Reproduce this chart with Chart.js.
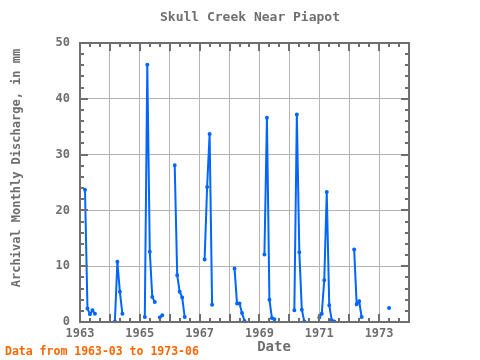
<!DOCTYPE html>
<html>
<head>
<meta charset="utf-8">
<script src="https://cdn.jsdelivr.net/npm/chart.js@4/dist/chart.umd.min.js"></script>
<style>
  body { margin: 0; background: #fff; }
  #wrap { width: 480px; height: 360px; }
</style>
</head>
<body>
<div id="wrap"><canvas id="flowChart" width="480" height="360"></canvas></div>
<script>
// ---------- DATA ----------
const months = [
  "1963-03", "1963-04", "1963-05", "1963-06", "1963-07", "1963-08",
  "1964-03", "1964-04", "1964-05", "1964-06", "1964-07",
  "1965-03", "1965-04", "1965-05", "1965-06", "1965-07", "1965-08", "1965-09", "1965-10", "1965-11",
  "1966-03", "1966-04", "1966-05", "1966-06", "1966-07", "1966-08",
  "1967-03", "1967-04", "1967-05", "1967-06", "1967-07",
  "1968-03", "1968-04", "1968-05", "1968-06", "1968-07", "1968-08",
  "1969-03", "1969-04", "1969-05", "1969-06", "1969-07", "1969-08",
  "1970-03", "1970-04", "1970-05", "1970-06", "1970-07", "1970-08",
  "1971-01", "1971-02", "1971-03", "1971-04", "1971-05", "1971-06", "1971-07", "1971-08",
  "1972-03", "1972-04", "1972-05", "1972-06", "1972-07",
  "1973-05", "1973-06"
];
const discharge = [
  23.7, 2.4, 1.4, 2.1, 1.5, null,
  0.1, 10.8, 5.4, 1.5, null,
  0.9, 46.1, 12.6, 4.5, 3.6, null, 0.8, 1.2, null,
  28.1, 8.4, 5.4, 4.4, 0.9, null,
  11.2, 24.2, 33.7, 3.1, null,
  9.6, 3.3, 3.3, 1.6, 0.2, null,
  12.1, 36.6, 4.0, 0.7, 0.5, null,
  2.1, 37.2, 12.5, 2.2, 0.1, null,
  0.8, 1.5, 7.5, 23.3, 3.0, 0.3, 0.1, null,
  13.0, 3.2, 3.7, 0.9, null,
  2.5, null
];
const yearLabels = ["1963", "1965", "1967", "1969", "1971", "1973"];
const valueLabels = ["0", "10", "20", "30", "40", "50"];

const chartTitle = "Skull Creek Near Piapot";
const yTitle = "Archival Monthly Discharge, in mm";
const xTitle = "Date";
const footNote = "Data from 1963-03 to 1973-06";

// "YYYY-MM" -> decimal year
function toYear(s) {
    const p = s.split("-");
    return Number(p[0]) + (Number(p[1]) - 1) / 12;
}

const points = months.map((m, i) => ({ x: toYear(m), y: discharge[i] }));

const MONO = "'DejaVu Sans Mono', 'Liberation Mono', monospace";
const GREY = "#6e6e6e";

// frame, inward ticks and the texts
const decor = {
    id: "decor",
    afterDatasetsDraw(chart) {
        const { ctx, chartArea: a, scales } = chart;
        ctx.save();
        ctx.strokeStyle = GREY;

        // minor + major ticks on x (top and bottom)
        ctx.lineWidth = 2;
        for (let k = 0; k <= 33; k++) {
            const v = 1963 + k / 3;
            const px = Math.round(scales.x.getPixelForValue(v));
            const len = (k % 3 === 0) ? 8 : 4;
            ctx.beginPath();
            ctx.moveTo(px, a.top); ctx.lineTo(px, a.top + len);
            ctx.moveTo(px, a.bottom); ctx.lineTo(px, a.bottom - len);
            ctx.stroke();
        }
        // ticks on y (left and right)
        for (let v = 0; v <= 50; v += 2) {
            const py = Math.round(scales.y.getPixelForValue(v));
            const len = (v % 10 === 0) ? 8 : 4;
            ctx.beginPath();
            ctx.moveTo(a.left, py); ctx.lineTo(a.left + len, py);
            ctx.moveTo(a.right, py); ctx.lineTo(a.right - len, py);
            ctx.stroke();
        }
        ctx.lineWidth = 2;
        ctx.strokeRect(a.left, a.top, a.right - a.left, a.bottom - a.top);

        // texts
        ctx.fillStyle = GREY;
        ctx.textAlign = "center";
        ctx.textBaseline = "middle";
        ctx.font = "bold 13px " + MONO;
        ctx.fillText(chartTitle, 250, 18);
        ctx.font = "bold 14px " + MONO;
        ctx.fillText(xTitle, 274, 347);

        ctx.save();
        ctx.translate(17, 168);
        ctx.rotate(-Math.PI / 2);
        ctx.font = "bold 12px " + MONO;
        ctx.fillText(yTitle, 0, 0);
        ctx.restore();

        ctx.textAlign = "left";
        ctx.fillStyle = "#ff6600";
        ctx.font = "bold 11.5px " + MONO;
        ctx.fillText(footNote, 5, 352);
        ctx.restore();
    }
};

new Chart(document.getElementById("flowChart"), {
    type: "line",
    data: {
        datasets: [{
            data: points,
            borderColor: "#0066ff",
            backgroundColor: "#0066ff",
            borderWidth: 2,
            pointRadius: 1,
            pointHoverRadius: 1,
            tension: 0,
            spanGaps: false
        }]
    },
    options: {
        responsive: false,
        animation: false,
        layout: { padding: { left: 0, right: 71, top: 43, bottom: 0 } },
        plugins: {
            legend: { display: false },
            tooltip: { enabled: false }
        },
        scales: {
            x: {
                type: "linear",
                min: 1963,
                max: 1974,
                afterFit: (s) => { s.height = 38; },
                border: { display: false },
                grid: { color: "#b4b4b4", lineWidth: 1, drawTicks: false },
                ticks: {
                    stepSize: 1,
                    padding: 5,
                    autoSkip: false,
                    maxRotation: 0,
                    color: GREY,
                    font: { family: MONO, size: 12, weight: "bold" },
                    callback: (v) => yearLabels.includes(String(v)) ? String(v) : ""
                }
            },
            y: {
                min: 0,
                max: 50,
                afterFit: (s) => { s.width = 80; },
                border: { display: false },
                grid: { color: "#b4b4b4", lineWidth: 1, drawTicks: false },
                ticks: {
                    stepSize: 10,
                    padding: 10,
                    color: GREY,
                    font: { family: MONO, size: 12, weight: "bold" },
                    callback: (v) => valueLabels.includes(String(v)) ? String(v) : ""
                }
            }
        }
    },
    plugins: [decor]
});
</script>
</body>
</html>
